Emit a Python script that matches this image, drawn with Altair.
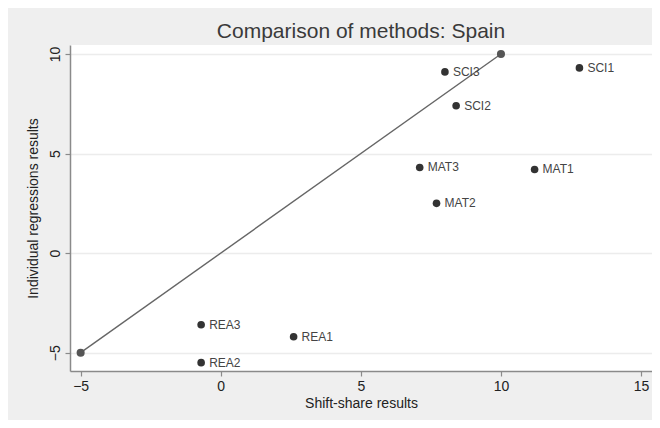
import altair as alt
import pandas as pd

labels = ["SCI1", "SCI2", "SCI3", "MAT1", "MAT2", "MAT3", "REA1", "REA2", "REA3"]
shift_share = [12.8, 8.4, 8.0, 11.2, 7.7, 7.1, 2.6, -0.7, -0.7]
individual = [9.3, 7.4, 9.1, 4.2, 2.5, 4.3, -4.2, -5.5, -3.6]
line_x = [-5, 10]
line_y = [-5, 10]
x_ticks = [-5, 0, 5, 10, 15]
y_ticks = [-5, 0, 5, 10]

pts = pd.DataFrame({"label": labels, "x": shift_share, "y": individual})
ln = pd.DataFrame({"x": line_x, "y": line_y})

FONT = "Liberation Sans"
xs = alt.Scale(domain=[-5.38, 15.39], nice=False, zero=False)
ys = alt.Scale(domain=[-5.92, 10.45], nice=False, zero=False)

xaxis = alt.Axis(values=x_ticks, title="Shift-share results", grid=False,
                 labelPadding=3, titlePadding=3)
yaxis = alt.Axis(values=y_ticks, title="Individual regressions results", grid=True,
                 labelAngle=270, labelPadding=3, titlePadding=8)

line = alt.Chart(ln).mark_line(color="#666666", strokeWidth=1.4).encode(
    x=alt.X("x:Q", scale=xs, axis=xaxis),
    y=alt.Y("y:Q", scale=ys, axis=yaxis),
)
ends = alt.Chart(ln).mark_circle(color="#555555", size=65, opacity=1).encode(
    x=alt.X("x:Q", scale=xs), y=alt.Y("y:Q", scale=ys)
)
dots = alt.Chart(pts).mark_circle(color="#333333", size=58, opacity=1).encode(
    x=alt.X("x:Q", scale=xs), y=alt.Y("y:Q", scale=ys)
)
text = alt.Chart(pts).mark_text(align="left", baseline="middle", dx=8, fontSize=12,
                                font=FONT, color="#444444").encode(
    x=alt.X("x:Q", scale=xs), y=alt.Y("y:Q", scale=ys), text="label:N"
)

chart = alt.layer(line, ends, dots, text).properties(
    width=582,
    height=326,
    autosize="none",
    padding={"left": 62, "top": 37, "right": 0, "bottom": 49},
    background="#efefef",
    title=alt.TitleParams("Comparison of methods: Spain", fontSize=21, font=FONT,
                          fontWeight="normal", color="#3a3a3a", anchor="middle", offset=3),
).configure_view(fill="white", strokeWidth=0).configure_axis(
    domainColor="#8a8a8a", domainWidth=1.5, tickColor="#8a8a8a", tickWidth=1.2, tickSize=5,
    labelFont=FONT, labelFontSize=14, labelColor="#222222",
    titleFont=FONT, titleFontSize=14, titleFontWeight="normal", titleColor="#222222",
    gridColor="#ececec", gridWidth=1.5,
)

chart.save("out.html", embed_options={"renderer": "svg", "actions": False})
